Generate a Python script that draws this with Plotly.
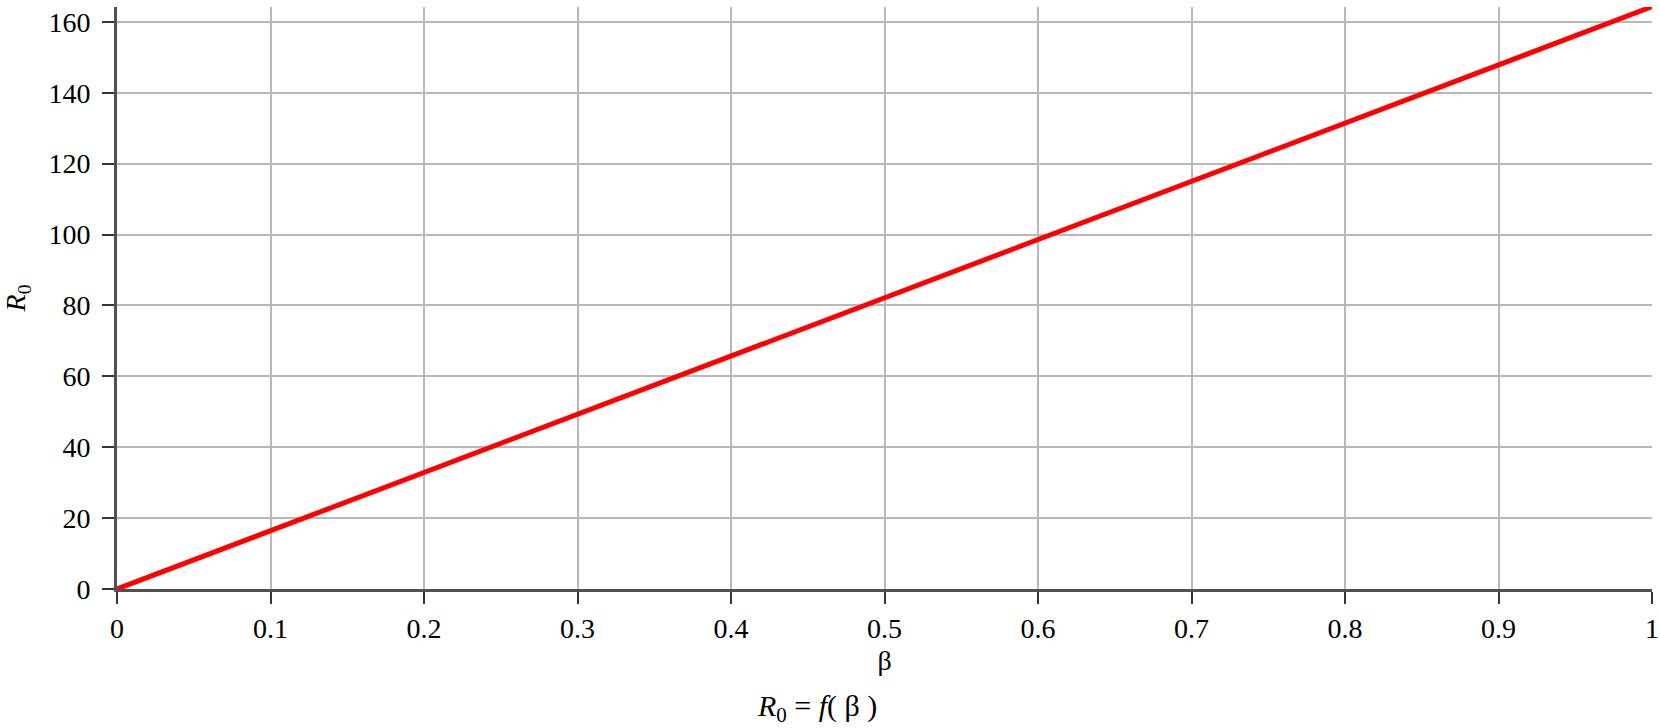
import plotly.graph_objects as go

beta = [0.0, 0.1, 0.2, 0.3, 0.4, 0.5, 0.6, 0.7, 0.8, 0.9, 1.0]
r0 = [0.0, 16.4, 32.9, 49.3, 65.7, 82.2, 98.6, 115.0, 131.4, 147.9, 164.3]

x_ticks = [0, 0.1, 0.2, 0.3, 0.4, 0.5, 0.6, 0.7, 0.8, 0.9, 1]
x_ticklabels = ["0", "0.1", "0.2", "0.3", "0.4", "0.5", "0.6", "0.7", "0.8", "0.9", "1"]
y_ticks = [0, 20, 40, 60, 80, 100, 120, 140, 160]

FONT = "Liberation Serif"
FS = 28

fig = go.Figure()
fig.add_trace(go.Scatter(x=beta, y=r0, mode="lines",
                         line=dict(color="#ff0000", width=5), showlegend=False,
                         hoverinfo="skip"))

fig.update_layout(
    width=1660, height=728,
    margin=dict(l=117, r=8, t=7, b=139, autoexpand=False),
    paper_bgcolor="white", plot_bgcolor="white",
    font=dict(family=FONT, size=FS, color="black"),
    xaxis=dict(range=[0, 1], tickvals=x_ticks, ticktext=x_ticklabels,
               showgrid=True, gridcolor="#b8b8b8", gridwidth=2,
               showline=True, linecolor="#505050", linewidth=3,
               ticks="outside", ticklen=12, tickwidth=2, tickcolor="#333333",
               zeroline=False, ticklabeloverflow="allow", automargin=False,
               title=dict(text="β", standoff=8, font=dict(size=FS))),
    yaxis=dict(range=[0, 164.2], tickvals=y_ticks,
               showgrid=True, gridcolor="#b8b8b8", gridwidth=2,
               showline=True, linecolor="#505050", linewidth=3,
               ticks="outside", ticklen=12, tickwidth=2, tickcolor="#333333",
               zeroline=False, ticklabeloverflow="allow", ticklabelstandoff=6,
               automargin=False,
               title=dict(text="<i>R</i><sub>0</sub>", standoff=26, font=dict(size=FS))),
)

fig.add_annotation(text="<i>R</i><sub>0</sub> = <i>f</i>( β )", xref="paper", yref="paper",
                   x=0.456, y=-0.2045, xanchor="center", yanchor="middle",
                   showarrow=False, font=dict(family=FONT, size=30, color="black"))

fig.write_html("out.html", config={"displayModeBar": False},
               post_script="document.body.style.margin='0';")
